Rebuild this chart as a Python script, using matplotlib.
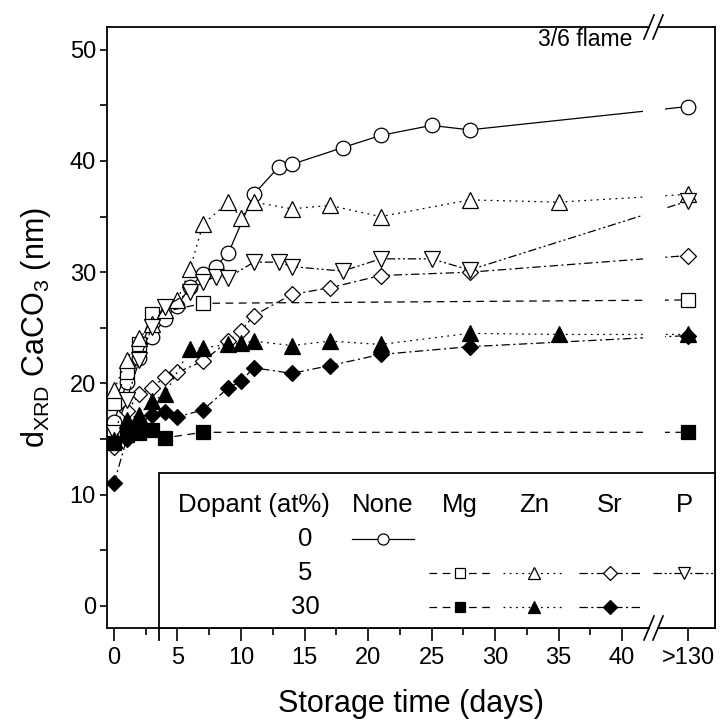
import matplotlib
matplotlib.use('Agg')
import matplotlib.pyplot as plt
from matplotlib.patches import Rectangle

plt.rcParams['font.family'] = ['Liberation Sans', 'DejaVu Sans']
plt.rcParams['mathtext.fontset'] = 'custom'
plt.rcParams['mathtext.rm'] = 'Liberation Sans'
plt.rcParams['lines.scale_dashes'] = False

# position used for the ">130" days column (after the axis break)
X_LATE = 45.2

# storage time (days) and crystallite size (nm), last value is ">130 days"
none_days = [0, 1, 2, 3, 4, 5, 6, 7, 8, 9, 11, 13, 14, 18, 21, 25, 28]
none_vals = [16.5, 20.1, 22.3, 24.2, 25.8, 27.0, 28.7, 29.8, 30.5, 31.7, 37.0, 39.5, 39.7, 41.2, 42.3, 43.2, 42.8]
none_late = 44.9

mg5_days = [0, 1, 2, 3, 7]
mg5_vals = [18.2, 21.0, 23.5, 26.2, 27.2]
mg5_late = 27.5

zn5_days = [0, 1, 2, 3, 4, 5, 6, 7, 9, 10, 11, 14, 17, 21, 28, 35]
zn5_vals = [19.4, 22.1, 24.1, 25.3, 26.6, 27.5, 30.3, 34.3, 36.3, 34.9, 36.3, 35.7, 36.0, 35.0, 36.5, 36.3]
zn5_late = 37.0

sr5_days = [0, 1, 2, 3, 4, 5, 7, 9, 10, 11, 14, 17, 21, 28]
sr5_vals = [14.3, 17.5, 19.0, 19.6, 20.6, 21.0, 22.0, 23.8, 24.7, 26.1, 28.0, 28.6, 29.7, 30.0]
sr5_late = 31.5

p5_days = [0, 1, 2, 3, 4, 6, 7, 8, 9, 11, 13, 14, 18, 21, 25, 28]
p5_vals = [15.5, 18.5, 22.1, 25.1, 26.9, 28.2, 29.1, 29.6, 29.5, 30.9, 30.9, 30.5, 30.1, 31.2, 31.2, 30.2]
p5_late = 36.4

mg30_days = [0, 1, 2, 3, 4, 7]
mg30_vals = [14.6, 15.4, 15.5, 15.8, 15.1, 15.6]
mg30_late = 15.6

zn30_days = [0, 1, 2, 3, 4, 6, 7, 9, 10, 11, 14, 17, 21, 28, 35]
zn30_vals = [14.9, 16.7, 17.2, 18.4, 19.0, 23.1, 23.2, 23.5, 23.6, 23.8, 23.4, 23.8, 23.5, 24.5, 24.4]
zn30_late = 24.4

sr30_days = [0, 1, 2, 3, 4, 5, 7, 9, 10, 11, 14, 17, 21, 28]
sr30_vals = [11.0, 15.0, 16.3, 17.2, 17.4, 17.0, 17.6, 19.6, 20.2, 21.4, 20.9, 21.6, 22.6, 23.3]
sr30_late = 24.3

x_ticks = [0, 5, 10, 15, 20, 25, 30, 35, 40, X_LATE]
x_labels = ['0', '5', '10', '15', '20', '25', '30', '35', '40', '>130']

# line styles (points)
ls_none = '-'
ls_mg = (0, (5.5, 4))
ls_zn = (0, (1.3, 3.2))
ls_sr = (0, (6, 2.5, 1.5, 2.5))
ls_p = (0, (6, 2, 1.5, 2, 1.5, 2))

series = [
    (none_days, none_vals, none_late, 'o', 'white', ls_none, 10.5),
    (mg5_days, mg5_vals, mg5_late, 's', 'white', ls_mg, 9.5),
    (zn5_days, zn5_vals, zn5_late, '^', 'white', ls_zn, 11),
    (sr5_days, sr5_vals, sr5_late, 'D', 'white', ls_sr, 8.5),
    (p5_days, p5_vals, p5_late, 'v', 'white', ls_p, 11),
    (mg30_days, mg30_vals, mg30_late, 's', 'black', ls_mg, 9.5),
    (zn30_days, zn30_vals, zn30_late, '^', 'black', ls_zn, 11),
    (sr30_days, sr30_vals, sr30_late, 'D', 'black', ls_sr, 8.5),
]

fig = plt.figure(figsize=(7.24, 7.24), dpi=100)
ax = fig.add_axes([107 / 724, 96 / 724, 608 / 724, 601 / 724])

for days, vals, late, mk, fc, ls, ms in series:
    ax.plot(list(days) + [X_LATE], list(vals) + [late], linestyle=ls, color='black', lw=0.9,
            marker=mk, markersize=ms, markerfacecolor=fc, markeredgecolor='black',
            markeredgewidth=0.9, zorder=3)

ax.set_xlim(-0.55, 47.32)
ax.set_ylim(-2, 52.05)
ax.set_xticks(x_ticks)
ax.set_xticklabels(x_labels)
ax.set_xticks([2.5 + 5 * i for i in range(8)], minor=True)
ax.set_yticks([0, 10, 20, 30, 40, 50])
ax.set_yticks([5, 15, 25, 35, 45], minor=True)
ax.tick_params(axis='x', which='major', direction='out', length=9, width=1.2, labelsize=17, pad=5)
ax.tick_params(axis='x', which='minor', direction='out', length=5, width=1.2)
ax.tick_params(axis='y', which='both', direction='out', length=5, width=1.2, labelsize=17, pad=3)
for s in ax.spines.values():
    s.set_linewidth(1.3)

ax.set_xlabel('Storage time (days)', fontsize=22, labelpad=14)
ax.set_ylabel('d$_{\\mathregular{XRD}}$ CaCO$_{\\mathregular{3}}$ (nm)', fontsize=22, labelpad=12)


def px(x, y):
    # figure pixel -> axes fraction
    return (x - 107) / 608, (628 - y) / 601


# gap in the data lines at the axis break
gx0, _ = px(643, 0)
gx1, _ = px(665, 0)
_, gy0 = px(0, 471)
ax.add_patch(Rectangle((gx0, gy0), gx1 - gx0, 0.995 - gy0, transform=ax.transAxes,
                       facecolor='white', edgecolor='none', zorder=4))

# legend box
bx, by = px(159, 473)
ax.add_patch(Rectangle((bx, 0), 1 - bx, by, transform=ax.transAxes, facecolor='white',
                       edgecolor='black', lw=1.3, zorder=5, clip_on=False))
ax.plot([bx, bx], [0, -0.02], transform=ax.transAxes, color='black', lw=1.3, clip_on=False, zorder=5)

# break marks on top and bottom spines
for yb in (1.0, 0.0):
    sx0, _ = px(650, 0)
    sx1, _ = px(657, 0)
    ax.add_patch(Rectangle((sx0, yb - 0.01), sx1 - sx0, 0.02, transform=ax.transAxes,
                           facecolor='white', edgecolor='none', zorder=10, clip_on=False))
    for cx in (649, 658):
        a, _ = px(cx - 5, 0)
        b, _ = px(cx + 5, 0)
        ax.plot([a, b], [yb - 12 / 601, yb + 12 / 601], transform=ax.transAxes, color='black',
                lw=1.2, clip_on=False, zorder=11)

tx, ty = px(632, 40)
ax.text(tx, ty, '3/6 flame', transform=ax.transAxes, ha='right', va='center', fontsize=16.5, zorder=6)

# legend table
hdr_y = px(0, 505)[1]
rows_y = [px(0, 539)[1], px(0, 573)[1], px(0, 607)[1]]
col_x = [px(x, 0)[0] for x in (383, 460, 534, 610, 684)]
col_names = ['None', 'Mg', 'Zn', 'Sr', 'P']
row_names = ['0', '5', '30']
ax.text(px(254, 0)[0], hdr_y, 'Dopant (at%)', transform=ax.transAxes, ha='center', va='center',
        fontsize=18.5, zorder=6)
for cx, nm in zip(col_x, col_names):
    ax.text(cx, hdr_y, nm, transform=ax.transAxes, ha='center', va='center', fontsize=18.5, zorder=6)
for ry, nm in zip(rows_y, row_names):
    ax.text(px(305, 0)[0], ry, nm, transform=ax.transAxes, ha='center', va='center', fontsize=18.5, zorder=6)

half = 31 / 608
legend_items = [
    (0, 0, 'o', 'white', ls_none, 8),
    (1, 1, 's', 'white', ls_mg, 7.5),
    (1, 2, '^', 'white', ls_zn, 8.5),
    (1, 3, 'D', 'white', ls_sr, 7),
    (1, 4, 'v', 'white', ls_p, 8.5),
    (2, 1, 's', 'black', ls_mg, 7.5),
    (2, 2, '^', 'black', ls_zn, 8.5),
    (2, 3, 'D', 'black', ls_sr, 7),
]
for r, c, mk, fc, ls, ms in legend_items:
    cx = col_x[c]
    ax.plot([cx - half, cx, cx + half], [rows_y[r]] * 3, transform=ax.transAxes, color='black',
            linestyle=ls, lw=0.9, marker=mk, markevery=[1], markersize=ms, markerfacecolor=fc,
            markeredgecolor='black', markeredgewidth=0.9, zorder=6, clip_on=False)

fig.savefig('out.png', dpi=100)
